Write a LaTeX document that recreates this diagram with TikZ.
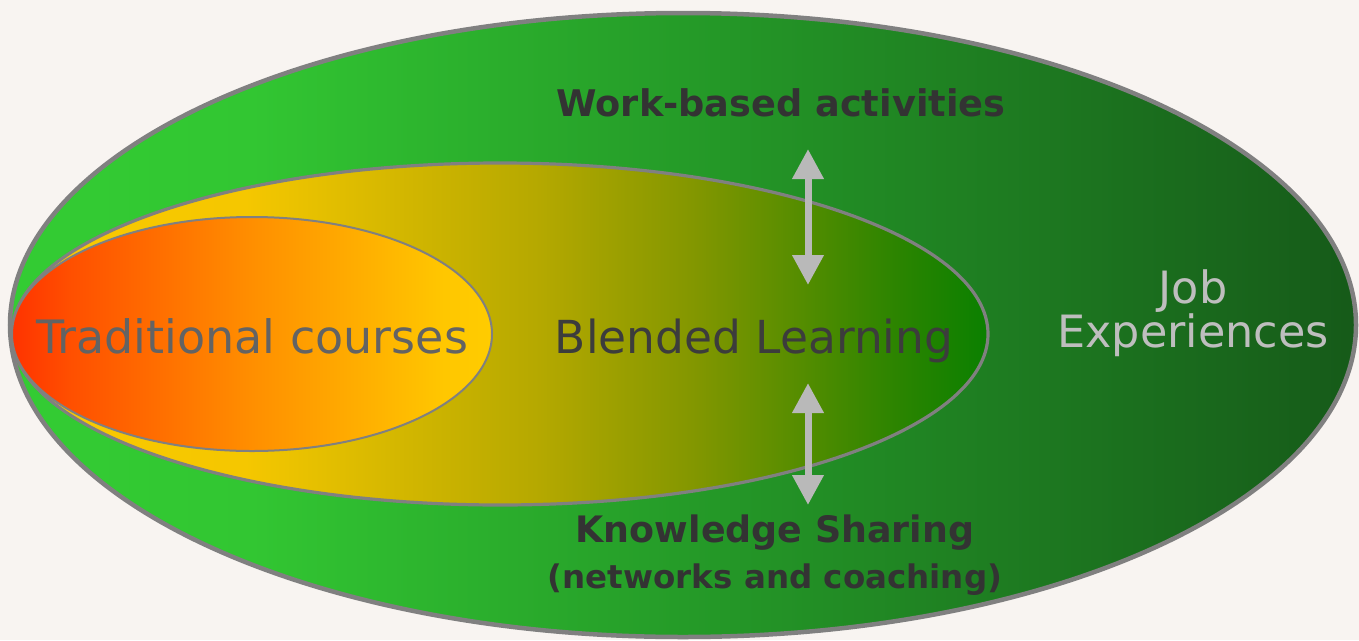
\documentclass[tikz,border=0pt]{standalone}
\usepackage{fontspec}
\setmainfont{DejaVu Sans}
\usetikzlibrary{shapes.geometric,arrows.meta}
\definecolor{bg}{RGB}{248,244,241}
\definecolor{edge}{RGB}{128,128,128}
\definecolor{tgray}{RGB}{99,99,99}
\definecolor{tdark}{RGB}{60,60,60}
\definecolor{tlight}{RGB}{190,190,190}
\definecolor{tbold}{RGB}{51,51,51}
\definecolor{arrowgray}{RGB}{185,185,185}
\pgfdeclarehorizontalshading{outershade}{100bp}{%
  rgb(0bp)=(0.20,0.80,0.20);
  rgb(25bp)=(0.20,0.80,0.20);
  rgb(34bp)=(0.196,0.776,0.196);
  rgb(50bp)=(0.145,0.608,0.157);
  rgb(61.5bp)=(0.118,0.490,0.130);
  rgb(75bp)=(0.086,0.353,0.098);
  rgb(100bp)=(0.086,0.353,0.098)}
\pgfdeclarehorizontalshading{middleshade}{100bp}{%
  rgb(0bp)=(0.98,0.79,0.0);
  rgb(25bp)=(0.98,0.79,0.0);
  rgb(37bp)=(0.96,0.78,0.0);
  rgb(52bp)=(0.71,0.66,0.0);
  rgb(60bp)=(0.51,0.59,0.0);
  rgb(70bp)=(0.18,0.52,0.0);
  rgb(75bp)=(0.04,0.50,0.0);
  rgb(100bp)=(0.04,0.50,0.0)}
\pgfdeclarehorizontalshading{innershade}{100bp}{%
  rgb(0bp)=(1.0,0.20,0.0);
  rgb(25bp)=(1.0,0.20,0.0);
  rgb(31bp)=(1.0,0.31,0.0);
  rgb(50bp)=(1.0,0.56,0.0);
  rgb(70bp)=(1.0,0.78,0.0);
  rgb(75bp)=(1.0,0.80,0.0);
  rgb(100bp)=(1.0,0.80,0.0)}
\tikzset{
  oval/.style={ellipse, draw=edge, inner sep=0pt, outer sep=0pt},
  boldlabel/.style={text=tbold, align=center, inner sep=0pt},
  biglabel/.style={align=center, inner sep=0pt},
  twoway/.style={draw=arrowgray, line width=7pt, {Triangle[width=30pt,length=30pt]}-{Triangle[width=30pt,length=30pt]}}
}
\begin{document}
\begin{tikzpicture}[x=1pt,y=-1pt]
\useasboundingbox[fill=bg] (0,0) rectangle (1359,640);
\node[oval, line width=4.5pt, minimum width=1346pt, minimum height=624pt,
  shading=outershade] (outer) at (683,325) {};
\node[oval, line width=3.2pt, minimum width=976pt, minimum height=342pt,
  shading=middleshade] (middle) at (500,334) {};
\node[oval, line width=2pt, minimum width=480pt, minimum height=234pt,
  shading=innershade] (inner) at (252,334) {};
\node[biglabel, text=tgray, font=\fontsize{46}{46}\selectfont, anchor=base] (trad) at (252,353) {Traditional courses};
\node[biglabel, text=tdark, font=\fontsize{45.5}{46}\selectfont, anchor=base] (blend) at (754,353) {Blended Learning};
\node[biglabel, text=tlight, font=\fontsize{44.5}{44}\selectfont, anchor=base] (job) at (1193,347) {Job\\Experiences};
\node[boldlabel, font=\fontsize{36.7}{46}\selectfont\bfseries, anchor=base] (work) at (781,116) {Work-based activities};
\node[boldlabel, font=\fontsize{36.4}{46}\selectfont\bfseries, anchor=base] (know) at (775,542) {Knowledge Sharing};
\node[boldlabel, font=\fontsize{32.5}{46}\selectfont\bfseries, anchor=base] (netw) at (775,588) {(networks and coaching)};
\coordinate (a1top) at (808,149);
\coordinate (a1bot) at (808,285);
\coordinate (a2top) at (808,383);
\coordinate (a2bot) at (808,505);
\draw[twoway] (a1top) -- (a1bot);
\draw[twoway] (a2top) -- (a2bot);
\end{tikzpicture}
\end{document}
